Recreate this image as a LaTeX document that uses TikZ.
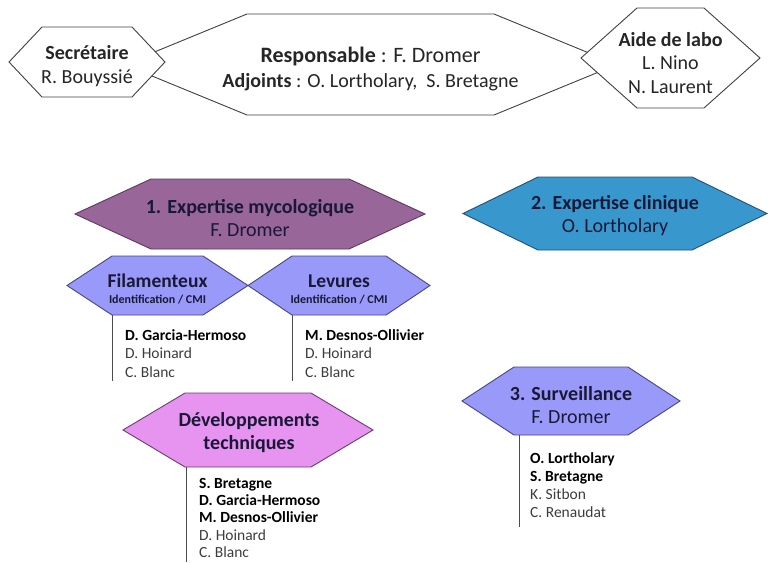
\documentclass[tikz,border=0pt]{standalone}
\usepackage{fontspec}
\setmainfont{Carlito}
\definecolor{mycol}{RGB}{152,102,152}
\definecolor{mycoledge}{RGB}{95,55,95}
\definecolor{clincol}{RGB}{56,152,205}
\definecolor{clinedge}{RGB}{30,80,120}
\definecolor{lavcol}{RGB}{153,153,250}
\definecolor{lavedge}{RGB}{70,70,130}
\definecolor{devcol}{RGB}{230,148,240}
\definecolor{devedge}{RGB}{110,60,115}
\definecolor{navy}{RGB}{25,25,55}
\definecolor{namegray}{RGB}{60,60,60}
\newcommand\hexpath[6]{%
  \draw[#1] ({#2-#4},{#3}) -- ({#2-#4+#6},{#3-#5}) -- ({#2+#4-#6},{#3-#5})
    -- ({#2+#4},{#3}) -- ({#2+#4-#6},{#3+#5}) -- ({#2-#4+#6},{#3+#5}) -- cycle;}
\tikzset{
  hexwhite/.style={draw=black!75, fill=white, line width=0.9pt},
  hexmyco/.style={draw=mycoledge, fill=mycol, line width=0.9pt},
  hexclin/.style={draw=clinedge, fill=clincol, line width=0.9pt},
  hexlav/.style={draw=lavedge, fill=lavcol, line width=0.9pt},
  hexdev/.style={draw=devedge, fill=devcol, line width=0.9pt},
  toptext/.style={align=center, font=\fontsize{20}{23.5}\selectfont, text=black!85, inner sep=0pt},
  headtext/.style={align=center, font=\fontsize{20}{23}\selectfont, text=navy, inner sep=0pt},
  names/.style={align=left, anchor=north west, font=\fontsize{15.5}{18.5}\selectfont, text=namegray, inner sep=0pt},
  stem/.style={draw=black!70, line width=0.9pt}
}
\begin{document}
\begin{tikzpicture}[x=1pt,y=-1pt]
\useasboundingbox (0,0) rectangle (768,562);
% top row
\hexpath{hexwhite}{370.5}{64.5}{246.5}{50.5}{123}
\node[toptext, font=\fontsize{20}{25}\selectfont] (resp) at (370.5,69) {{\fontsize{22}{25}\selectfont\textbf{Responsable} : F. Dromer}\\ \textbf{Adjoints} : O. Lortholary,\ \ S. Bretagne};
\hexpath{hexwhite}{87}{62}{78}{35}{33}
\node[toptext] (secr) at (87,66) {\textbf{Secrétaire}\\ R. Bouyssié};
\hexpath{hexwhite}{670.5}{58}{89.5}{50}{56}
\node[toptext] (aide) at (670.5,63) {\textbf{Aide de labo}\\ L. Nino\\ N. Laurent};
% middle row
\hexpath{hexmyco}{250}{214}{175}{35}{76}
\node[headtext] (myco) at (250,218) {\textbf{1. Expertise mycologique}\\ F. Dromer};
\hexpath{hexclin}{615}{213.5}{152}{36.5}{75}
\node[headtext] (clin) at (615,216) {\textbf{2. Expertise clinique}\\ O. Lortholary};
\hexpath{hexlav}{157.5}{285.5}{90.5}{29.5}{45}
\node[headtext, font=\fontsize{19.5}{18}\selectfont] (fil) at (157.5,289) {\textbf{Filamenteux}\\[-2pt] {\fontsize{12}{13}\selectfont\textbf{Identification / CMI}}};
\hexpath{hexlav}{339}{285.5}{91}{29.5}{44}
\node[headtext, font=\fontsize{19.5}{18}\selectfont] (lev) at (339,289) {\textbf{Levures}\\[-2pt] {\fontsize{12}{13}\selectfont\textbf{Identification / CMI}}};
\coordinate (filbl) at (112,315);
\coordinate (filend) at (112,381);
\draw[stem] (filbl) -- (filend);
\node[names] (filnames) at (125,329) {\textbf{\color{black}D. Garcia-Hermoso}\\ D. Hoinard\\ C. Blanc};
\coordinate (levbl) at (292,315);
\coordinate (levend) at (292,381);
\draw[stem] (levbl) -- (levend);
\node[names] (levnames) at (305,329) {\textbf{\color{black}M. Desnos-Ollivier}\\ D. Hoinard\\ C. Blanc};
% lower row
\hexpath{hexdev}{248}{430}{125}{37}{62}
\node[headtext] (dev) at (249,433) {\textbf{Développements}\\ \textbf{techniques}};
\coordinate (devbl) at (186,467);
\coordinate (devend) at (186,562);
\draw[stem] (devbl) -- (devend);
\node[names, font=\fontsize{15.5}{17.3}\selectfont] (devnames) at (199,478) {\textbf{\color{black}S. Bretagne}\\ \textbf{\color{black}D. Garcia-Hermoso}\\ \textbf{\color{black}M. Desnos-Ollivier}\\ D. Hoinard\\ C. Blanc};
\hexpath{hexlav}{571}{401}{109}{34}{52}
\node[headtext] (surv) at (571,405) {\textbf{3. Surveillance}\\ F. Dromer};
\coordinate (survbl) at (519,435);
\coordinate (survend) at (519,527);
\draw[stem] (survbl) -- (survend);
\node[names, font=\fontsize{15.5}{18}\selectfont] (survnames) at (530,452) {\textbf{\color{black}O. Lortholary}\\ \textbf{\color{black}S. Bretagne}\\ K. Sitbon\\ C. Renaudat};
\end{tikzpicture}
\end{document}
